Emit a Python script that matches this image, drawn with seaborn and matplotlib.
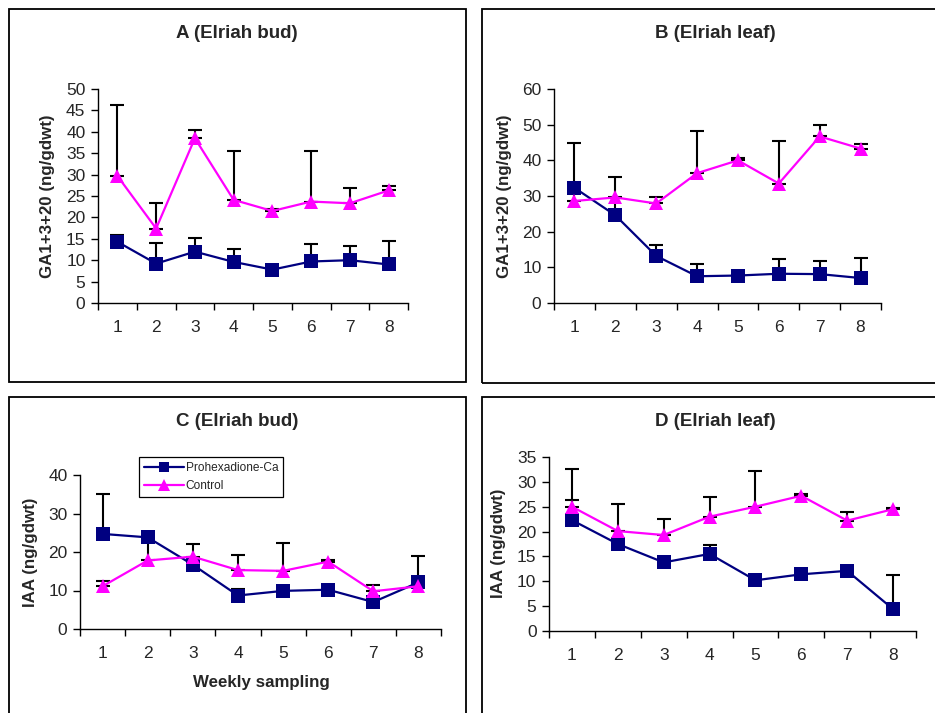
import numpy as np
import pandas as pd
import matplotlib
matplotlib.use("Agg")
import matplotlib.pyplot as plt
from matplotlib.patches import Rectangle
import seaborn as sns

# ---- data -------------------------------------------------------------
weeks = [1, 2, 3, 4, 5, 6, 7, 8]
treatments = ["Prohexadione-Ca", "Control"]

# A: GA1+3+20, bud
ga_bud_pro = [14.3, 9.2, 12.0, 9.6, 7.8, 9.7, 10.0, 9.0]
ga_bud_pro_err = [1.6, 4.9, 3.1, 3.1, 0.8, 4.0, 3.4, 5.5]
ga_bud_ctl = [29.7, 17.4, 38.5, 24.1, 21.5, 23.7, 23.3, 26.3]
ga_bud_ctl_err = [16.6, 5.9, 2.0, 11.5, 0.5, 11.7, 3.5, 1.1]

# B: GA1+3+20, leaf
ga_leaf_pro = [32.3, 24.6, 13.2, 7.5, 7.7, 8.2, 8.1, 7.0]
ga_leaf_pro_err = [1.0, 4.9, 3.2, 3.4, 0.8, 4.2, 3.6, 5.5]
ga_leaf_ctl = [28.6, 29.6, 27.9, 36.4, 40.0, 33.5, 46.7, 43.3]
ga_leaf_ctl_err = [16.4, 5.8, 1.7, 11.7, 0.6, 12.0, 3.3, 1.2]

# C: IAA, bud
iaa_bud_pro = [24.7, 23.8, 16.7, 8.7, 9.9, 10.2, 7.0, 12.1]
iaa_bud_pro_err = [10.3, 0.8, 0.8, 1.8, 0.8, 0.8, 0.8, 6.9]
iaa_bud_ctl = [11.1, 17.8, 18.8, 15.3, 15.1, 17.5, 9.8, 11.1]
iaa_bud_ctl_err = [1.4, 7.2, 3.2, 3.8, 7.3, 0.4, 1.7, 0.8]

# D: IAA, leaf
iaa_leaf_pro = [22.3, 17.5, 13.8, 15.5, 10.2, 11.4, 12.1, 4.4]
iaa_leaf_pro_err = [4.1, 0.8, 0.8, 1.8, 0.8, 0.8, 0.8, 6.8]
iaa_leaf_ctl = [25.0, 20.1, 19.3, 23.0, 25.0, 27.2, 22.2, 24.5]
iaa_leaf_ctl_err = [7.6, 5.5, 3.2, 3.9, 7.2, 0.4, 1.7, 0.3]

titles = ["A (Elriah bud)", "B (Elriah leaf)", "C (Elriah bud)", "D (Elriah leaf)"]
ylabels = ["GA1+3+20 (ng/gdwt)", "GA1+3+20 (ng/gdwt)", "IAA (ng/gdwt)", "IAA (ng/gdwt)"]
y_max = [50, 60, 40, 35]
y_step = [5, 10, 10, 5]
xlabel_text = "Weekly sampling"

# ---- style ------------------------------------------------------------
sns.set_style("white")
plt.rcParams["font.family"] = ["Liberation Sans", "DejaVu Sans"]
palette = {"Prohexadione-Ca": "#000080", "Control": "#FF00FF"}
markers = {"Prohexadione-Ca": "s", "Control": "^"}

W, H = 935, 713
fig = plt.figure(figsize=(W / 100, H / 100), dpi=100)


def px_box(x0, y0, x1, y1):
    """Pixel box (top-left origin) -> figure fraction [left, bottom, w, h]."""
    return [x0 / W, 1 - y1 / H, (x1 - x0) / W, (y1 - y0) / H]


# outer chart frames
for (x0, y0, x1, y1) in [(9, 9, 466, 382), (482, 9, 945, 383),
                         (9, 397, 466, 725), (482, 397, 945, 725)]:
    fig.patches.append(Rectangle((x0 / W, 1 - y1 / H), (x1 - x0) / W, (y1 - y0) / H,
                                 transform=fig.transFigure, fill=False,
                                 edgecolor="black", linewidth=1.3))

axes_boxes = [(98, 89, 408, 303), (554, 89, 881, 303),
              (80, 475, 441, 629), (549, 457, 916, 631)]
title_pos = [(237, 33), (715, 33), (237, 421), (715, 421)]
ylabel_pos = [(48, 196), (505, 196), (31, 552), (499, 543)]

series = [
    (ga_bud_pro, ga_bud_pro_err, ga_bud_ctl, ga_bud_ctl_err),
    (ga_leaf_pro, ga_leaf_pro_err, ga_leaf_ctl, ga_leaf_ctl_err),
    (iaa_bud_pro, iaa_bud_pro_err, iaa_bud_ctl, iaa_bud_ctl_err),
    (iaa_leaf_pro, iaa_leaf_pro_err, iaa_leaf_ctl, iaa_leaf_ctl_err),
]

for i, (box, (pro, pro_err, ctl, ctl_err)) in enumerate(zip(axes_boxes, series)):
    ax = fig.add_axes(px_box(*box))
    df = pd.DataFrame({
        "week": weeks * 2,
        "value": pro + ctl,
        "treatment": [treatments[0]] * len(weeks) + [treatments[1]] * len(weeks),
    })

    # upper-only error bars, drawn beneath the lines
    for vals, errs in ((pro, pro_err), (ctl, ctl_err)):
        ax.errorbar(weeks, vals, yerr=[np.zeros(len(errs)), errs], fmt="none",
                    ecolor="black", elinewidth=1.5, capsize=5, capthick=1.5,
                    zorder=1)

    sns.lineplot(data=df, x="week", y="value", hue="treatment", style="treatment",
                 hue_order=treatments, style_order=treatments,
                 palette=palette, markers=markers, dashes=False,
                 linewidth=1.6, markersize=9.5, markeredgewidth=0,
                 legend=(i == 2), ax=ax, zorder=2)
    # triangles a touch larger than the squares
    for ln in ax.lines:
        if ln.get_marker() == "^":
            ln.set_markersize(10.5)

    ax.set_xlim(0.5, 8.5)
    ax.set_ylim(0, y_max[i])
    ax.set_yticks(np.arange(0, y_max[i] + 0.1, y_step[i]))
    ax.set_xticks(np.arange(0.5, 9.0, 1.0))
    ax.set_xticklabels([])
    ax.set_xticks(weeks, minor=True)
    ax.set_xticklabels([str(w) for w in weeks], minor=True)
    ax.tick_params(axis="x", which="major", direction="out", length=5, width=1,
                   color="black", bottom=True)
    ax.tick_params(axis="x", which="minor", length=0, pad=12, labelsize=12.5)
    ax.tick_params(axis="y", direction="out", length=5, width=1, color="black",
                   left=True, pad=4, labelsize=12.5)
    ax.set_xlabel("")
    ax.set_ylabel("")
    for side in ("top", "right"):
        ax.spines[side].set_visible(False)
    for side in ("left", "bottom"):
        ax.spines[side].set_color("black")
        ax.spines[side].set_linewidth(1.0)
    ax.patch.set_alpha(0)

    tx, ty = title_pos[i]
    fig.text(tx / W, 1 - ty / H, titles[i], ha="center", va="center",
             fontsize=13.5, fontweight="bold")
    lx, ly = ylabel_pos[i]
    fig.text(lx / W, 1 - ly / H, ylabels[i], ha="center", va="center",
             rotation=90, fontsize=12.2, fontweight="bold")

    if i == 2:
        leg = ax.legend(loc="upper left", bbox_to_anchor=(139 / W, 1 - 457 / H),
                        bbox_transform=fig.transFigure, borderaxespad=0,
                        fontsize=8.6, handlelength=3.4, handletextpad=0.1,
                        frameon=True, fancybox=False, edgecolor="black",
                        framealpha=1, borderpad=0.4, labelspacing=0.55,
                        markerscale=0.8)
        leg.get_frame().set_linewidth(0.9)
        fig.text(261 / W, 1 - 683 / H, xlabel_text, ha="center", va="center",
                 fontsize=12.2, fontweight="bold")

fig.savefig("out.png", dpi=100)
